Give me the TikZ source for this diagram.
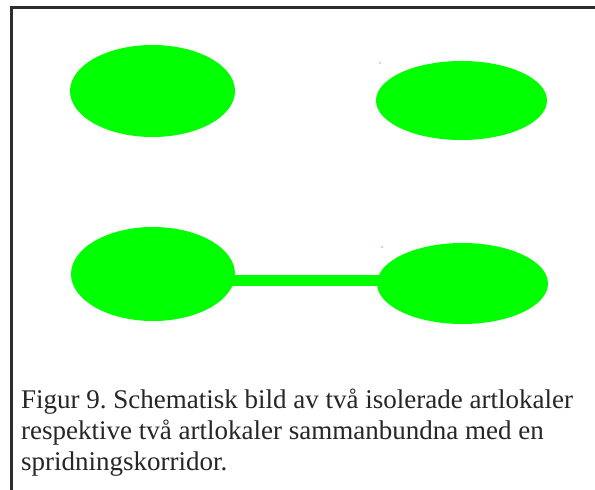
\documentclass[tikz,border=0pt]{standalone}
\usepackage{fontspec}
\setmainfont{Liberation Serif}
\usetikzlibrary{shapes.geometric,backgrounds}
\definecolor{patch}{RGB}{0,255,0}
\definecolor{speck}{RGB}{120,240,120}
\definecolor{frameline}{RGB}{45,45,45}
\frenchspacing
\begin{document}
\begin{tikzpicture}[x=1pt,y=-1pt,
  site/.style={ellipse,fill=patch,draw=none,inner sep=0pt},
  corridor/.style={draw=patch,line width=11pt},
  frame/.style={draw=frameline,line width=3pt},
  caption/.style={anchor=base west,align=left,inner sep=0pt,
    font=\fontsize{27}{31}\selectfont,text=black!85}]
\useasboundingbox (0,0) rectangle (595,490);

% frame: only the top and left rules
\coordinate (tl) at (11,7.5);
\coordinate (tr) at (595,7.5);
\coordinate (bl0) at (11,490);
\draw[frame] (tr) -- (tl.center) -- (bl0);

% two isolated habitat patches
\node[site,minimum width=165pt,minimum height=92pt] (a1) at (152.5,91) {};
\node[site,minimum width=171pt,minimum height=79pt] (a2) at (461.5,100.5) {};

% two patches joined by a dispersal corridor
\node[site,minimum width=164pt,minimum height=94pt] (b1) at (153,274) {};
\node[site,minimum width=171pt,minimum height=81pt] (b2) at (462.5,283.5) {};
\coordinate (c1) at (153,280.5);
\coordinate (c2) at (462.5,280.5);
\begin{pgfonlayer}{background}
\fill[white] (0,0) rectangle (595,490);
\draw[corridor] (c1) -- (c2);
\end{pgfonlayer}

% stray specks
\fill[speck] (380,63) circle (1pt);
\fill[speck] (382,247) circle (1pt);

% caption; the anchor sits on the baseline of the last line
\node[caption] (cap) at (21,470) {Figur 9. Schematisk bild av två isolerade artlokaler\\
respektive två artlokaler sammanbundna med en\\
spridningskorridor.};
\end{tikzpicture}
\end{document}
